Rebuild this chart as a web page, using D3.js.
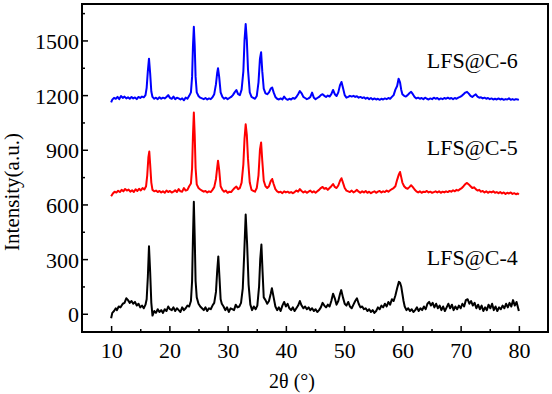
<!DOCTYPE html>
<html>
<head>
<meta charset="utf-8">
<script src="https://cdn.jsdelivr.net/npm/d3@7"></script>
<style>
  body { margin: 0; background: #fff; }
  svg { display: block; }
  svg text { font-family: "Liberation Serif", "Times New Roman", serif; }
</style>
</head>
<body>
<svg id="chart" width="552" height="394"></svg>
<script>
// 2θ / intensity pairs
const lfsC4 = [[10,-25],[10.2,5],[10.5,15],[10.8,30],[11,20],[11.3,40],[11.6,35],[12,55],[12.3,60],[12.6,85],[12.9,75],[13.2,60],[13.5,70],[13.8,55],[14.1,65],[14.4,45],[14.7,55],[15,35],[15.3,45],[15.6,30],[15.9,50],[16.1,80],[16.3,200],[16.5,370],[16.7,230],[16.9,60],[17.1,-10],[17.4,15],[17.7,5],[18,25],[18.3,10],[18.6,20],[18.9,5],[19.2,25],[19.5,15],[19.8,40],[20.1,25],[20.4,20],[20.7,35],[21,15],[21.3,30],[21.6,20],[21.9,10],[22.2,35],[22.5,20],[22.8,30],[23.1,45],[23.4,40],[23.7,70],[23.9,180],[24.05,420],[24.2,615],[24.35,420],[24.5,180],[24.7,90],[25,55],[25.3,40],[25.6,30],[25.9,20],[26.2,35],[26.5,15],[26.8,30],[27.1,25],[27.4,45],[27.7,60],[28,120],[28.2,230],[28.4,315],[28.6,200],[28.8,80],[29,55],[29.3,40],[29.6,20],[29.9,35],[30.2,10],[30.5,30],[30.8,25],[31.1,20],[31.4,50],[31.7,35],[32,40],[32.3,60],[32.6,140],[32.85,330],[33.1,545],[33.35,380],[33.6,160],[33.9,50],[34.2,20],[34.5,40],[34.8,25],[35.1,45],[35.4,150],[35.6,300],[35.8,380],[36,230],[36.2,90],[36.5,75],[36.8,55],[37.1,70],[37.4,110],[37.6,140],[37.9,90],[38.2,40],[38.5,20],[38.8,35],[39.1,15],[39.4,45],[39.7,65],[40,40],[40.3,55],[40.6,30],[40.9,20],[41.2,35],[41.5,15],[41.8,30],[42.1,45],[42.4,70],[42.7,45],[43,30],[43.3,40],[43.6,25],[43.9,35],[44.2,20],[44.5,30],[44.8,15],[45.1,25],[45.4,10],[45.7,20],[46,35],[46.3,60],[46.6,45],[46.9,35],[47.2,50],[47.5,40],[47.8,70],[48.1,110],[48.4,85],[48.7,50],[49,70],[49.3,110],[49.5,130],[49.8,90],[50.1,55],[50.4,45],[50.7,65],[51,40],[51.3,30],[51.6,50],[51.9,70],[52.2,85],[52.5,55],[52.8,35],[53.1,40],[53.4,25],[53.7,30],[54,15],[54.3,25],[54.6,10],[54.9,20],[55.2,5],[55.5,15],[55.8,35],[56.1,25],[56.4,45],[56.7,35],[57,55],[57.3,40],[57.6,65],[57.9,50],[58.2,80],[58.5,70],[58.8,100],[59.1,140],[59.4,175],[59.6,170],[59.8,150],[60,110],[60.2,70],[60.4,40],[60.7,20],[61,30],[61.3,15],[61.6,25],[61.9,10],[62.2,20],[62.5,35],[62.8,15],[63.1,30],[63.4,20],[63.7,40],[64,25],[64.3,55],[64.6,65],[64.9,45],[65.2,60],[65.5,35],[65.8,55],[66.1,30],[66.4,45],[66.7,20],[67,40],[67.3,15],[67.6,35],[67.9,55],[68.2,30],[68.5,50],[68.8,20],[69.1,40],[69.4,25],[69.7,45],[70,30],[70.3,55],[70.6,40],[70.9,75],[71.2,80],[71.5,55],[71.8,70],[72.1,45],[72.4,60],[72.7,30],[73,50],[73.3,25],[73.6,45],[73.9,15],[74.2,35],[74.5,20],[74.8,50],[75.1,30],[75.4,55],[75.7,20],[76,40],[76.3,15],[76.6,35],[76.9,25],[77.2,45],[77.5,30],[77.8,55],[78.1,35],[78.4,60],[78.7,40],[79,75],[79.3,45],[79.6,65],[79.8,40],[80,15]];

const lfsC5 = [[10,645],[10.3,660],[10.6,670],[10.9,665],[11.2,675],[11.5,668],[11.8,680],[12.1,672],[12.4,685],[12.7,676],[13,682],[13.3,670],[13.6,678],[13.9,668],[14.2,683],[14.5,674],[14.8,686],[15.1,677],[15.4,690],[15.7,682],[16,700],[16.2,760],[16.4,860],[16.55,890],[16.7,820],[16.9,720],[17.1,680],[17.4,672],[17.7,676],[18,668],[18.3,674],[18.6,666],[18.9,672],[19.2,664],[19.5,676],[19.8,668],[20.1,674],[20.4,665],[20.7,670],[21,678],[21.3,668],[21.6,684],[21.9,672],[22.2,670],[22.5,690],[22.8,676],[23.1,680],[23.4,700],[23.7,715],[23.9,800],[24.05,980],[24.2,1105],[24.35,980],[24.5,800],[24.7,710],[25,690],[25.3,682],[25.6,676],[25.9,670],[26.2,674],[26.5,666],[26.8,672],[27.1,668],[27.4,680],[27.7,695],[28,740],[28.2,800],[28.35,840],[28.55,790],[28.8,700],[29.1,680],[29.4,670],[29.7,676],[30,664],[30.3,670],[30.6,668],[30.9,680],[31.2,690],[31.5,698],[31.8,684],[32.1,690],[32.4,720],[32.7,820],[32.9,960],[33.1,1040],[33.3,980],[33.5,850],[33.8,720],[34.1,680],[34.4,675],[34.7,670],[35,690],[35.3,760],[35.55,900],[35.75,940],[35.95,840],[36.2,730],[36.5,700],[36.8,690],[37.1,700],[37.4,728],[37.65,740],[37.9,712],[38.2,684],[38.5,672],[38.8,666],[39.1,670],[39.4,662],[39.7,672],[40,666],[40.3,670],[40.6,664],[40.9,668],[41.2,662],[41.5,668],[41.8,676],[42.1,670],[42.4,684],[42.7,674],[43,666],[43.3,672],[43.6,664],[43.9,670],[44.2,676],[44.5,666],[44.8,672],[45.1,664],[45.4,672],[45.7,680],[46,690],[46.3,696],[46.6,686],[46.9,690],[47.2,680],[47.5,690],[47.8,700],[48.1,712],[48.4,696],[48.7,690],[49,704],[49.3,730],[49.55,744],[49.8,720],[50.1,690],[50.4,676],[50.7,672],[51,668],[51.3,676],[51.6,666],[51.9,672],[52.2,680],[52.5,670],[52.8,664],[53.1,672],[53.4,666],[53.7,674],[54,664],[54.3,670],[54.6,662],[54.9,668],[55.2,672],[55.5,664],[55.8,670],[56.1,674],[56.4,666],[56.7,672],[57,668],[57.3,676],[57.6,670],[57.9,678],[58.2,684],[58.5,690],[58.8,700],[59.1,735],[59.4,765],[59.6,778],[59.8,750],[60,720],[60.3,700],[60.6,690],[60.9,686],[61.2,695],[61.5,705],[61.8,695],[62.1,682],[62.4,672],[62.7,666],[63,672],[63.3,664],[63.6,670],[63.9,668],[64.2,674],[64.5,666],[64.8,670],[65.1,664],[65.4,668],[65.7,672],[66,666],[66.3,672],[66.6,664],[66.9,670],[67.2,666],[67.5,672],[67.8,668],[68.1,674],[68.4,670],[68.7,678],[69,672],[69.3,680],[69.6,676],[69.9,684],[70.2,690],[70.5,700],[70.8,712],[71.1,718],[71.4,710],[71.7,700],[72,690],[72.3,694],[72.6,684],[72.9,676],[73.2,680],[73.5,670],[73.8,674],[74.1,666],[74.4,672],[74.7,664],[75,670],[75.3,666],[75.6,672],[75.9,664],[76.2,668],[76.5,662],[76.8,668],[77.1,660],[77.4,666],[77.7,658],[78,664],[78.3,660],[78.6,666],[78.9,658],[79.2,662],[79.5,656],[79.8,660],[80,655]];

const lfsC6 = [[10,1160],[10.2,1175],[10.5,1185],[10.8,1180],[11.1,1190],[11.4,1178],[11.7,1195],[12,1185],[12.3,1192],[12.6,1182],[12.9,1188],[13.2,1180],[13.5,1190],[13.8,1182],[14.1,1187],[14.4,1178],[14.7,1190],[15,1184],[15.3,1192],[15.6,1188],[15.9,1200],[16.1,1240],[16.3,1330],[16.5,1400],[16.7,1320],[16.9,1220],[17.1,1190],[17.4,1180],[17.7,1186],[18,1178],[18.3,1188],[18.6,1180],[18.9,1186],[19.2,1182],[19.5,1190],[19.8,1200],[20.1,1185],[20.4,1180],[20.7,1192],[21,1178],[21.3,1186],[21.6,1182],[21.9,1176],[22.2,1182],[22.5,1172],[22.8,1186],[23.1,1180],[23.4,1196],[23.7,1215],[23.9,1300],[24.05,1470],[24.2,1575],[24.35,1470],[24.5,1300],[24.7,1215],[25,1195],[25.3,1186],[25.6,1182],[25.9,1178],[26.2,1184],[26.5,1176],[26.8,1182],[27.1,1178],[27.4,1188],[27.7,1205],[28,1260],[28.2,1320],[28.35,1348],[28.55,1300],[28.8,1215],[29.1,1190],[29.4,1180],[29.7,1186],[30,1178],[30.3,1184],[30.6,1190],[30.9,1200],[31.2,1215],[31.5,1228],[31.8,1205],[32.1,1200],[32.4,1230],[32.7,1330],[32.9,1500],[33.1,1590],[33.3,1500],[33.5,1340],[33.8,1215],[34.1,1190],[34.4,1185],[34.7,1180],[35,1195],[35.3,1270],[35.55,1400],[35.75,1435],[35.95,1330],[36.2,1235],[36.5,1210],[36.8,1205],[37.1,1215],[37.4,1236],[37.65,1242],[37.9,1215],[38.2,1190],[38.5,1180],[38.8,1176],[39.1,1182],[39.4,1176],[39.7,1192],[40,1180],[40.3,1174],[40.6,1180],[40.9,1176],[41.2,1184],[41.5,1180],[41.8,1190],[42.1,1205],[42.4,1222],[42.7,1210],[43,1190],[43.3,1184],[43.6,1178],[43.9,1182],[44.2,1190],[44.5,1214],[44.8,1186],[45.1,1178],[45.4,1184],[45.7,1190],[46,1200],[46.3,1205],[46.6,1196],[46.9,1190],[47.2,1198],[47.5,1192],[47.8,1205],[48.1,1228],[48.4,1205],[48.7,1195],[49,1215],[49.3,1255],[49.55,1272],[49.8,1240],[50.1,1200],[50.4,1186],[50.7,1190],[51,1196],[51.3,1192],[51.6,1196],[51.9,1190],[52.2,1194],[52.5,1186],[52.8,1190],[53.1,1184],[53.4,1188],[53.7,1180],[54,1186],[54.3,1178],[54.6,1184],[54.9,1176],[55.2,1182],[55.5,1176],[55.8,1180],[56.1,1174],[56.4,1180],[56.7,1176],[57,1182],[57.3,1178],[57.6,1184],[57.9,1180],[58.2,1190],[58.5,1200],[58.8,1230],[59.1,1250],[59.35,1290],[59.6,1270],[59.8,1230],[60,1205],[60.3,1196],[60.6,1192],[60.9,1200],[61.2,1210],[61.5,1218],[61.8,1205],[62.1,1190],[62.4,1182],[62.7,1186],[63,1180],[63.3,1184],[63.6,1178],[63.9,1186],[64.2,1180],[64.5,1176],[64.8,1182],[65.1,1178],[65.4,1186],[65.7,1180],[66,1184],[66.3,1176],[66.6,1182],[66.9,1178],[67.2,1184],[67.5,1180],[67.8,1186],[68.1,1180],[68.4,1184],[68.7,1178],[69,1184],[69.3,1180],[69.6,1186],[69.9,1190],[70.2,1196],[70.5,1205],[70.8,1214],[71.1,1218],[71.4,1208],[71.7,1196],[72,1190],[72.3,1198],[72.6,1204],[72.9,1192],[73.2,1186],[73.5,1188],[73.8,1182],[74.1,1186],[74.4,1180],[74.7,1184],[75,1178],[75.3,1182],[75.6,1176],[75.9,1180],[76.2,1176],[76.5,1182],[76.8,1176],[77.1,1180],[77.4,1174],[77.7,1178],[78,1176],[78.3,1182],[78.6,1174],[78.9,1178],[79.2,1174],[79.5,1178],[79.8,1176],[80,1174]];

const seriesNames = ["LFS@C-4", "LFS@C-5", "LFS@C-6"];
const seriesColors = ["#000000", "#ff0000", "#0000ff"];
const labelValues = [269, 872, 1349]; // baseline of each label, in data units
const xTicks = [10, 20, 30, 40, 50, 60, 70, 80];
const xMinor = [15, 25, 35, 45, 55, 65, 75];
const yTicks = [0, 300, 600, 900, 1200, 1500];
const yMinor = [150, 450, 750, 1050, 1350, 1650];

const svg = d3.select("#chart");
const margin = { top: 4, right: 4, bottom: 62, left: 82 };
const width = 552 - margin.left - margin.right;
const height = 394 - margin.top - margin.bottom;

const x = d3.scaleLinear().domain([5, 85]).range([0, width]);
const y = d3.scaleLinear().domain([-100, 1700]).range([height, 0]);

const g = svg.append("g").attr("transform", `translate(${margin.left},${margin.top})`);

// curves
const line = d3.line().x(d => x(d[0])).y(d => y(d[1]));
[lfsC4, lfsC5, lfsC6].forEach((data, i) => {
  g.append("path")
    .datum(data)
    .attr("fill", "none")
    .attr("stroke", seriesColors[i])
    .attr("stroke-width", 2)
    .attr("stroke-linejoin", "round")
    .attr("d", line);
});

// axes, ticks pointing in
const fmt = d3.format("d");
g.append("g")
  .attr("class", "axis")
  .attr("transform", `translate(0,${height})`)
  .call(d3.axisBottom(x).tickValues(xTicks).tickFormat(fmt).tickSize(-6).tickPadding(10));
g.append("g")
  .attr("class", "axis")
  .attr("transform", `translate(0,${height})`)
  .call(d3.axisBottom(x).tickValues(xMinor).tickSize(-3).tickFormat(""));
const yAxis = g.append("g")
  .attr("class", "axis")
  .call(d3.axisLeft(y).tickValues(yTicks).tickFormat(fmt).tickSize(-6).tickPadding(3));
g.append("g")
  .attr("class", "axis")
  .call(d3.axisLeft(y).tickValues(yMinor).tickSize(-3).tickFormat(""));

g.selectAll(".axis .domain").remove();
g.selectAll(".axis .tick line").attr("stroke", "#000").attr("stroke-width", 1.5);
g.selectAll(".axis .tick text")
  .style("font-family", "'Liberation Serif', 'Times New Roman', serif")
  .style("font-size", "22px")
  .attr("fill", "#000");
yAxis.selectAll(".tick text").attr("dy", "0.36em");

// frame
g.append("rect")
  .attr("width", width)
  .attr("height", height)
  .attr("fill", "none")
  .attr("stroke", "#000")
  .attr("stroke-width", 2);

// series labels
g.selectAll("text.series")
  .data(seriesNames)
  .enter()
  .append("text")
  .attr("class", "series")
  .attr("x", x(80) - 1)
  .attr("y", (d, i) => y(labelValues[i]))
  .attr("text-anchor", "end")
  .style("font-size", "22px")
  .attr("fill", "#000")
  .text(d => d);

// axis titles
svg.append("text")
  .attr("x", 292)
  .attr("y", 388)
  .attr("text-anchor", "middle")
  .style("font-size", "20px")
  .text("2θ (°)");

svg.append("text")
  .attr("transform", `translate(19,192) rotate(-90)`)
  .attr("text-anchor", "middle")
  .style("font-size", "21px")
  .text("Intensity(a.u.)");
</script>
</body>
</html>
